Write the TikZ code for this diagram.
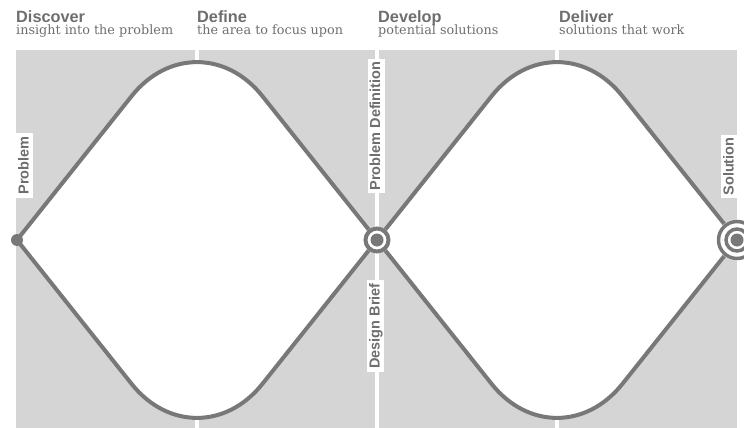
\documentclass[tikz,border=0pt]{standalone}
\usepackage{fontspec}
\newfontfamily\headfont{Liberation Sans}
\newfontfamily\subfont{DejaVu Serif}
\usetikzlibrary{calc}
\definecolor{panelgray}{HTML}{D5D5D5}
\definecolor{linegray}{HTML}{787878}
\definecolor{textgray}{HTML}{6E6E6E}
\def\diamondpath(#1)(#2)(#3)(#4){(#1) [rounded corners=105pt] -- (#2) [sharp corners] -- (#3) [rounded corners=105pt] -- (#4) [sharp corners] -- cycle}
\tikzset{
  phase/.style={anchor=base west, inner sep=0pt, text=textgray, font=\headfont\bfseries\fontsize{16.3}{18}\selectfont},
  phasesub/.style={anchor=base west, inner sep=0pt, text=textgray, font=\subfont\fontsize{12.8}{14}\selectfont},
  milestone/.style={rotate=90, fill=white, text=textgray, inner xsep=3pt, inner ysep=1.5pt, text height=11pt, text depth=3pt, font=\headfont\bfseries\fontsize{14.5}{16}\selectfont},
}

\begin{document}
\begin{tikzpicture}[x=1pt, y=-1pt, color=linegray]
			%%%%% START %%%%%
			\useasboundingbox (0,0) rectangle (744,428);
			\clip (0,0) rectangle (744,428);
			
			\coordinate (problem) at (17,240);
			\coordinate (define top) at (197,14);
			\coordinate (brief) at (377,240);
			\coordinate (define bottom) at (197,466);
			\coordinate (deliver top) at (557,14);
			\coordinate (solution) at (737,240);
			\coordinate (deliver bottom) at (557,466);
			
			\fill[panelgray] (16,50) rectangle (737,428);
			\draw[white, line width=3.5pt] (197,50) -- (197,428);
			\draw[white, line width=3.5pt] (557,50) -- (557,428);
			\draw[white, line width=4pt] (377,50) -- (377,428);
			
			\fill[white] \diamondpath(problem)(define top)(brief)(define bottom);
			\fill[white] \diamondpath(brief)(deliver top)(solution)(deliver bottom);
			\draw[line width=4pt] \diamondpath(problem)(define top)(brief)(define bottom);
			\draw[line width=4pt] \diamondpath(brief)(deliver top)(solution)(deliver bottom);
			
			\node[milestone] (problem label) at (24.5,165.5) {Problem};
			\node[milestone] (definition label) at (376,126) {Problem Definition};
			\node[milestone] (brief label) at (375.5,326) {Design Brief};
			\node[milestone] (solution label) at (729.5,166.5) {Solution};
			
			\fill (problem) circle (6pt);
			
			\fill[white] (brief) circle (13.5pt);
			\draw[line width=4pt] (brief) circle (11.5pt);
			\fill (brief) circle (6.5pt);
			
			\fill[white] (solution) circle (20.5pt);
			\draw[line width=3.5pt] (solution) circle (18.5pt) (solution) circle (11pt);
			\fill (solution) circle (6.5pt);
			
			\node[phase] (discover) at (16,22.3) {Discover};
			\node[phasesub] (discover text) at (16,34.5) {insight into the problem};
			\node[phase] (define) at (197,22.3) {Define};
			\node[phasesub] (define text) at (197,34.5) {the area to focus upon};
			\node[phase] (develop) at (378,22.3) {Develop};
			\node[phasesub] (develop text) at (378,34.5) {potential solutions};
			\node[phase] (deliver) at (559,22.3) {Deliver};
			\node[phasesub] (deliver text) at (559,34.5) {solutions that work};
			%%%%% END %%%%%
\end{tikzpicture}
\end{document}
